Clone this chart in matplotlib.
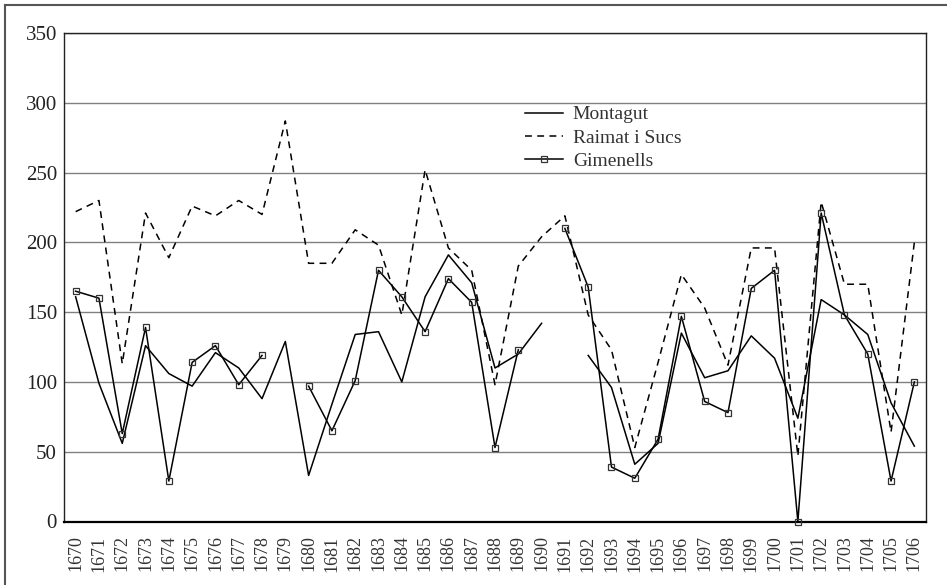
import matplotlib
matplotlib.use("Agg")
import matplotlib.pyplot as plt
from matplotlib.lines import Line2D
import numpy as np

nan = np.nan

# anys 1670-1706
years = list(range(1670, 1707))

montagut = [161, 99, 56, 126, 106, 97, 121, 110, 88, 129,
            33, 84, 134, 136, 100, 161, 191, 171, 110, 120,
            142, nan, 119, 96, 41, 56, 135, 103, 108, 133,
            117, 74, 159, 148, 134, 85, 54]

raimat = [222, 230, 113, 221, 189, 226, 219, 230, 220, 287,
          185, 185, 209, 198, 148, 252, 196, 180, 98, 183,
          204, 219, 148, 123, 53, 114, 177, 153, 112, 196,
          196, 47, 229, 170, 170, 64, 200]

gimenells = [165, 160, 63, 139, 29, 114, 126, 98, 119, nan,
             97, 65, 101, 180, 161, 136, 174, 157, 53, 123,
             nan, 210, 168, 39, 31, 59, 147, 86, 78, 167,
             180, 0, 221, 148, 120, 29, 100]

series_names = ["Montagut", "Raimat i Sucs", "Gimenells"]
y_ticks = [0, 50, 100, 150, 200, 250, 300, 350]

plt.rcParams['font.family'] = ['Liberation Serif', 'DejaVu Serif']

fig = plt.figure(figsize=(9.47, 5.85), dpi=100)
ax = fig.add_axes([64 / 947, 1 - 521.5 / 585, 862 / 947, 488.5 / 585])

x = np.arange(len(years))
lw = 1.1
ax.plot(x, montagut, color='black', lw=lw, label=series_names[0], zorder=3)
ax.plot(x, raimat, color='black', lw=lw, ls=(0, (4.5, 3.5)),
        label=series_names[1], zorder=3)
ax.plot(x, gimenells, color='black', lw=lw, marker='s', markersize=5,
        markerfacecolor='none', markeredgecolor='#333333', markeredgewidth=0.9,
        label=series_names[2], zorder=4, clip_on=False)

ax.set_xlim(-0.5, len(years) - 0.5)
ax.set_ylim(0, 350)
ax.set_yticks(y_ticks)
ax.set_xticks(x)
ax.set_xticklabels([str(y) for y in years], rotation=90, fontsize=13,
                   color='#333333')
ax.tick_params(axis='y', length=0, pad=5, labelsize=15, labelcolor='#222222')
ax.tick_params(axis='x', length=0, pad=10)
ax.grid(axis='y', color='#808080', lw=1.0)
ax.set_axisbelow(True)

for s in ['top', 'right', 'left']:
    ax.spines[s].set_color('#222222')
    ax.spines[s].set_linewidth(1.0)
ax.spines['bottom'].set_color('black')
ax.spines['bottom'].set_linewidth(1.6)

leg = ax.legend(loc='upper left', bbox_to_anchor=(0.535, 0.851), frameon=False,
                fontsize=14, handlelength=1.95, handletextpad=0.5,
                labelspacing=0.3, borderpad=0, borderaxespad=0)
for t in leg.get_texts():
    t.set_color('#333333')

# marc exterior (només a dalt i a l'esquerra)
fig.add_artist(Line2D([5 / 947, 5 / 947], [0, 1 - 5 / 585], transform=fig.transFigure,
                      color='#555555', lw=1.5))
fig.add_artist(Line2D([5 / 947, 1], [1 - 5 / 585, 1 - 5 / 585], transform=fig.transFigure,
                      color='#555555', lw=1.5))

fig.savefig("out.png", dpi=100)
